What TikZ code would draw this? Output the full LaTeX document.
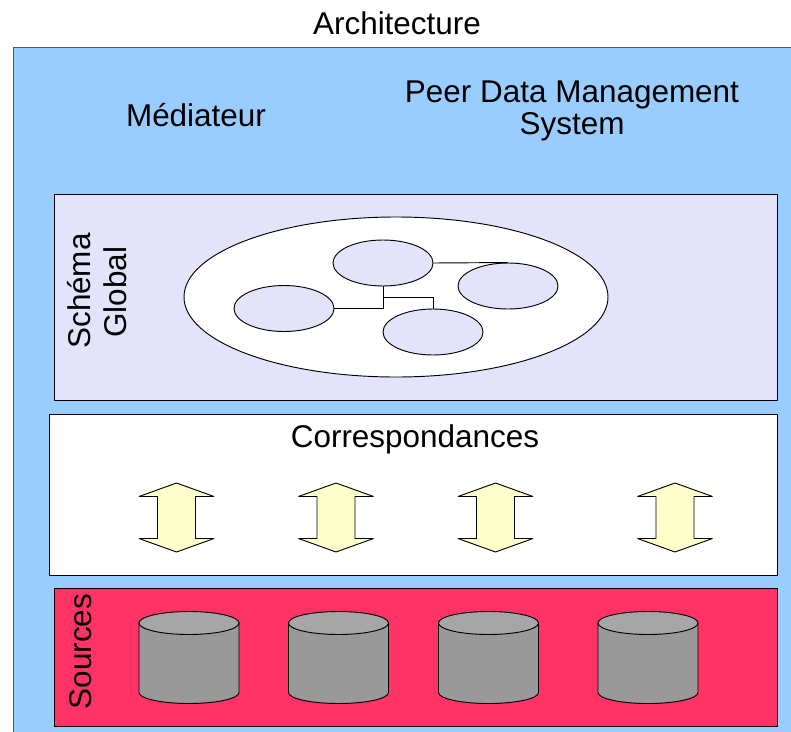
\documentclass[tikz,border=0pt]{standalone}
\usepackage{fontspec}
\setmainfont{Liberation Sans}
\usetikzlibrary{shapes.geometric}
\definecolor{skyblue}{HTML}{99CCFF}
\definecolor{lavender}{HTML}{E3E3FC}
\definecolor{crimsonred}{HTML}{FF3366}
\definecolor{paleyellow}{HTML}{FFFFCC}
\definecolor{barrel}{HTML}{999999}
\definecolor{barreltop}{HTML}{A6A6A6}
\tikzset{
  x=0.75pt,y=-0.75pt,
  label text/.style={inner sep=0pt,font=\fontsize{23.6}{24}\selectfont,text=black},
  panel/.style={draw=black,line width=0.7pt},
  big ellipse/.style={ellipse,draw=black,fill=white,line width=0.7pt,minimum width=318pt,minimum height=120pt,inner sep=0pt},
  small ellipse/.style={ellipse,draw=black,fill=lavender,line width=0.7pt,minimum width=75pt,minimum height=34.5pt,inner sep=0pt},
  link/.style={draw=black,line width=0.7pt},
  updown/.style={draw=black,fill=paleyellow,line width=0.7pt,line join=bevel},
  barrel line/.style={draw=black,line width=0.7pt}
}
\begin{document}
\begin{tikzpicture}
\useasboundingbox (0,0) rectangle (791,731);
\fill[white] (0,0) rectangle (791,731);
\draw[panel,draw=black!65,fill=skyblue] (13.5,47) rectangle (800,740);
\node[label text] (title) at (397,23) {Architecture};
\node[label text] (med) at (196,115) {Médiateur};
\node[label text,align=center] (pdms) at (572,111) {\fontsize{23.6}{32}\selectfont Peer Data Management\\System};
\draw[panel,fill=lavender] (54.5,194) rectangle (777,400);
\draw[panel,fill=white] (49.5,414.5) rectangle (777,575);
\draw[panel,fill=crimsonred] (54.5,588.5) rectangle (777,726);
\node[label text,rotate=90] (schema) at (79.5,291) {Schéma};
\node[label text,rotate=90] (global) at (115,292) {Global};
\node[label text,rotate=90] (sources) at (81,651.5) {Sources};
\node[label text] (corr) at (415,439) {Correspondances};
\node[big ellipse] (world) at (396,297) {};
\node[small ellipse] (top) at (383,263) {};
\node[small ellipse] (right) at (508,286) {};
\node[small ellipse] (left) at (284,308.5) {};
\node[small ellipse] (bottom) at (433,332) {};
\draw[link] (top.east) -- (right.north);
\draw[link] (top.south) |- (left.east);
\coordinate (branch) at (383,297);
\draw[link] (branch) -| (bottom.north);
\foreach \c in {176.5,336,495.5,675}{
  \draw[updown] (\c,483) -- (\c+37.5,496.5) -- (\c+19,496.5) -- (\c+19,538.5) -- (\c+37.5,538.5)
    -- (\c,552) -- (\c-37.5,538.5) -- (\c-19,538.5) -- (\c-19,496.5) -- (\c-37.5,496.5) -- cycle;
}
\foreach \c in {189,338.5,488.5,648}{
  \draw[barrel line,fill=barrel] (\c-50,623) -- (\c-50,692.5)
     arc[start angle=180,end angle=360,x radius=50,y radius=-11] -- (\c+50,623) -- cycle;
  \draw[barrel line,fill=barreltop] (\c,623) ellipse[x radius=50,y radius=11.5];
}
\end{tikzpicture}
\end{document}
